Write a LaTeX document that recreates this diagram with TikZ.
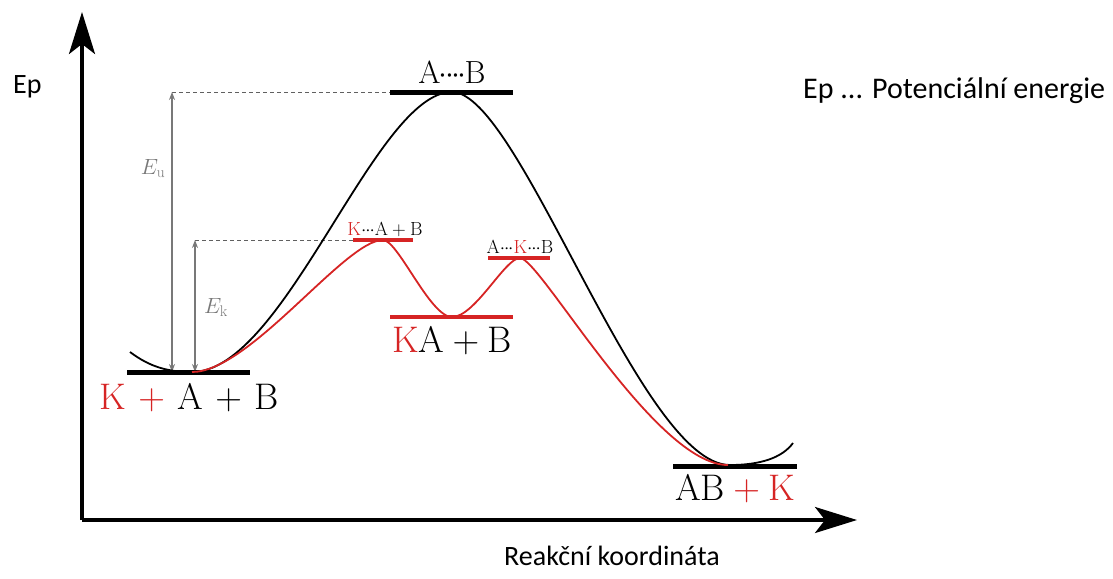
\RequirePackage{fix-cm}
\documentclass[tikz,border=0pt]{standalone}
\usepackage{fontspec}
\newfontfamily\popisfont{Carlito}
\usetikzlibrary{arrows.meta}
\definecolor{katred}{RGB}{214,36,36}
\definecolor{seda}{RGB}{120,120,120}
\newcommand{\vaz}{{\cdot}\mkern-1mu{\cdot}\mkern-1mu{\cdot}}
\newcommand{\katK}{\textcolor{katred}{\mathrm{K}}}

\begin{document}
\begin{tikzpicture}[x=1pt,y=-1pt,
    osa/.style={line width=3.5pt,-{Stealth[length=42pt,width=26pt,inset=10pt]}},
    hladina/.style={line width=5pt},
    krivka/.style={line width=1.8pt},
    pomocna/.style={seda!80!black,dash pattern=on 4pt off 3pt,line width=0.9pt},
    rozdil/.style={seda,line width=1.3pt,{Stealth[length=8pt,width=6pt]}-{Stealth[length=8pt,width=6pt]}},
    velky/.style={font=\fontsize{37}{40}\selectfont,inner sep=0pt,anchor=base},
    maly/.style={font=\fontsize{19}{21}\selectfont,inner sep=0pt,anchor=base},
    sans/.style={font=\popisfont\fontsize{28}{32}\selectfont,inner sep=0pt}]
    \useasboundingbox (0,0) rectangle (1113,578);

    % Osy
    \coordinate (O) at (82,520);
    \coordinate (yend) at (82,12);
    \coordinate (xend) at (857,520);
    \draw[osa] (O) -- (yend);
    \draw[osa] (O) -- (xend);
    \node[sans,anchor=base west] (ep) at (13,93) {Ep};
    \node[sans,anchor=base west,font=\popisfont\fontsize{30}{34}\selectfont] (legenda) at (803,98) {Ep ... Potenciální energie};
    \node[sans,anchor=base] (rk) at (612,565) {Reakční koordináta};

    % Energie aktivace
    \coordinate (eu1) at (172,92);
    \coordinate (eu0) at (172,372);
    \coordinate (ek1) at (195,240);
    \coordinate (ek0) at (195,372);
    \draw[pomocna] (eu1) -- (390,92);
    \draw[pomocna] (ek1) -- (353,240);
    \draw[rozdil] (eu0) -- (eu1);
    \draw[rozdil] (ek0) -- (ek1);
    \node[seda,font=\fontsize{22}{24}\selectfont,anchor=base] (eu) at (153,174) {$E_\mathrm{u}$};
    \node[seda,font=\fontsize{22}{24}\selectfont,anchor=base] (ek) at (216,313) {$E_\mathrm{k}$};

    % Bez katalyzatoru
    \draw[hladina] (127,372) -- (250,372);
    \draw[hladina] (390,92) -- (513,92);
    \draw[hladina] (673,466) -- (797,466);
    \draw[krivka] (130,352) .. controls (150,367) and (168,372) .. (192,372)
        .. controls (285,372) and (375,92) .. (452,92)
        .. controls (520,92) and (640,465) .. (730,465)
        .. controls (760,465) and (782,458) .. (793,443);

    % S katalyzatorem
    \draw[hladina,katred,line width=4pt] (390,317) -- (513,317);
    \draw[katred,line width=3.5pt] (353,240) -- (413,240);
    \draw[katred,line width=3.5pt] (488,258) -- (550,258);
    \draw[krivka,katred] (192,372) .. controls (250,372) and (345,240) .. (383,240)
        .. controls (398,240) and (430,317) .. (452,317)
        .. controls (475,317) and (505,258) .. (520,258)
        .. controls (540,258) and (655,465) .. (728,465);

    % Popisky
    \node[velky] (reakt) at (189,409)
        {$\textcolor{katred}{\mathrm{K}\mkern2mu+\mkern2mu{}}\mathrm{A}\mkern2mu+\mkern2mu\mathrm{B}$};
    \node[velky,font=\fontsize{32}{36}\selectfont] (aktk) at (452,83)
        {$\mathrm{A}\mkern-1mu{\cdot}\mkern-1.5mu{\cdot}\mkern-1.5mu{\cdot}\mkern-1.5mu{\cdot}\mkern-1mu\mathrm{B}$};
    \node[velky] (ka) at (452,352) {$\katK\mathrm{A}+\mathrm{B}$};
    \node[velky] (prod) at (735,500) {$\mathrm{AB}\textcolor{katred}{{}+\mathrm{K}}$};
    \node[maly] (akt1) at (385,235) {$\katK\vaz\mathrm{A}+\mathrm{B}$};
    \node[maly] (akt2) at (520,253) {$\mathrm{A}\vaz\katK\vaz\mathrm{B}$};
\end{tikzpicture}
\end{document}
